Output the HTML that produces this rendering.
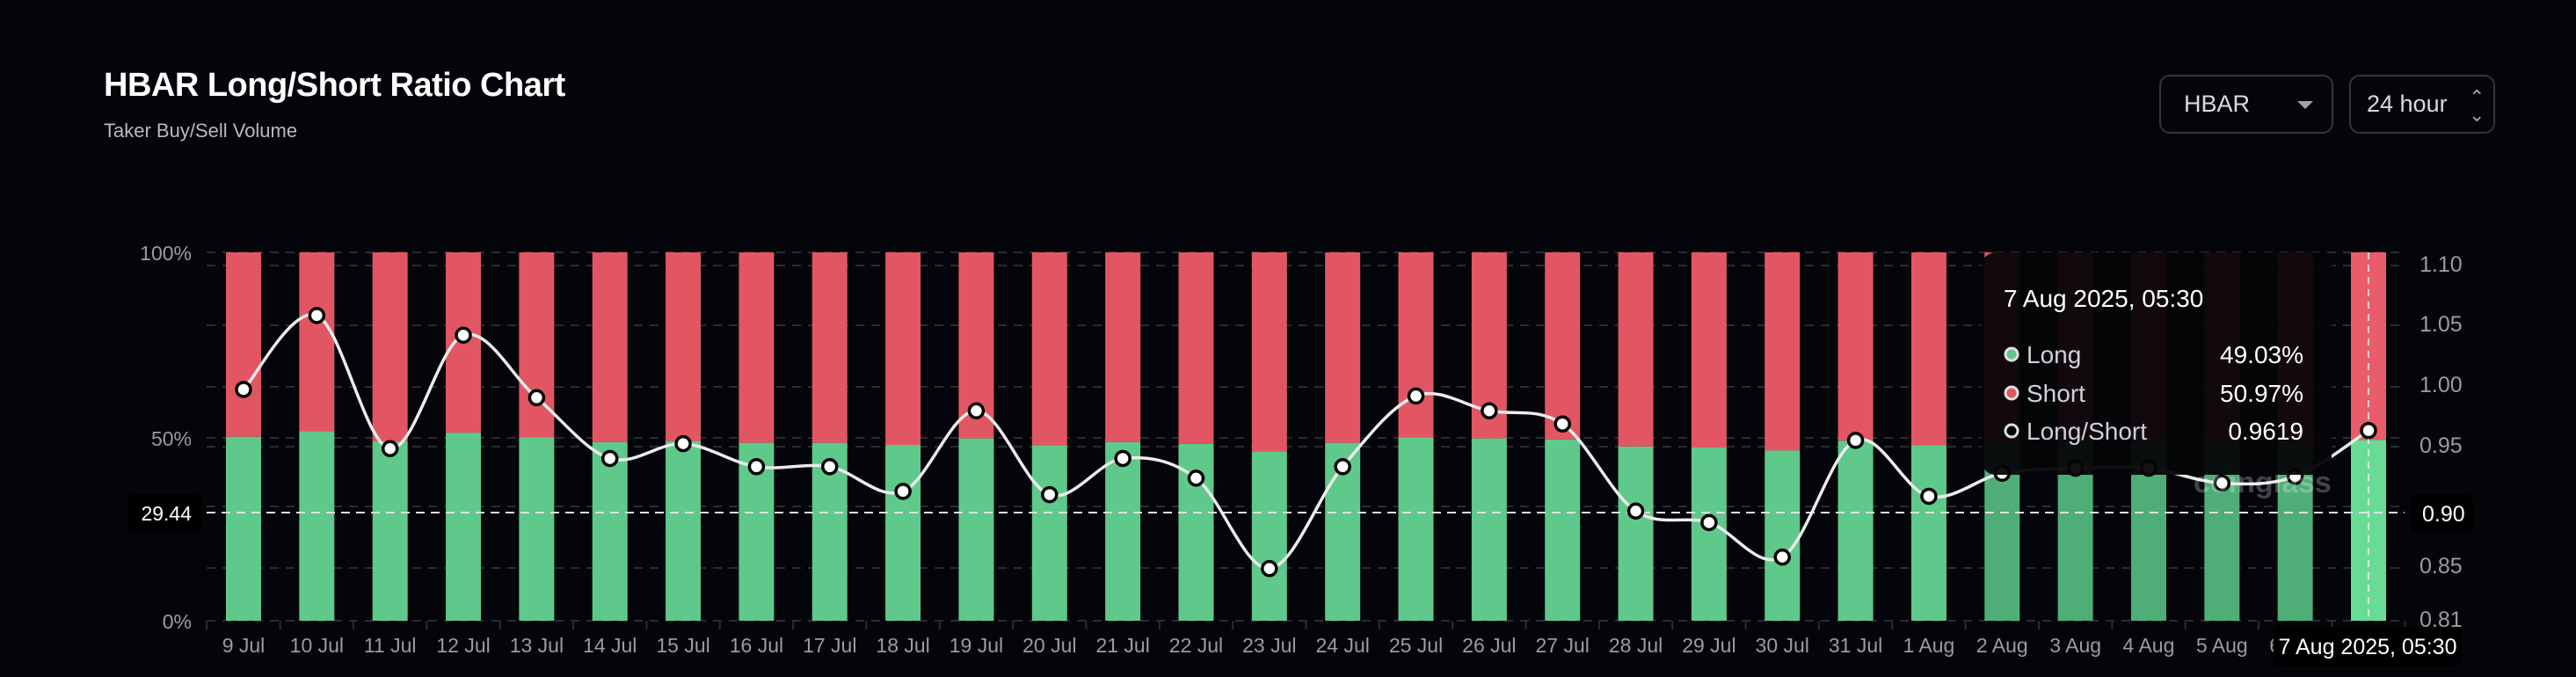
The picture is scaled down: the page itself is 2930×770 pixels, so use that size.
<!DOCTYPE html>
<html><head><meta charset="utf-8"><style>
html,body{margin:0;padding:0;background:#04050a;}
body{width:2930px;height:770px;position:relative;overflow:hidden;font-family:"Liberation Sans",sans-serif;}
.t{position:absolute;left:118px;top:76px;color:#fff;font-size:38px;font-weight:bold;letter-spacing:-0.5px}
.s{position:absolute;left:118px;top:136px;color:#b8bac0;font-size:22px}
.box{position:absolute;top:85px;height:67px;border:2px solid #33353c;border-radius:12px;box-sizing:border-box;color:#d8dae0;font-size:27px;line-height:63px}
</style></head><body>
<div class="t">HBAR Long/Short Ratio Chart</div>
<div class="s">Taker Buy/Sell Volume</div>
<div class="box" style="left:2456px;width:198px;padding-left:26px">HBAR<span style="position:absolute;left:155px;top:28px;width:0;height:0;border-left:9px solid transparent;border-right:9px solid transparent;border-top:9px solid #a0a2a8"></span></div>
<div class="box" style="left:2672px;width:166px;padding-left:18px">24 hour<span style="position:absolute;left:134px;top:14px;font-size:22px;color:#a0a2a8;line-height:20px">⌃<br>⌄</span></div>
<svg id="c" width="2930" height="770" style="position:absolute;left:0;top:0" font-family="Liberation Sans, sans-serif"></svg>
<script>
var svg=document.getElementById('c');var h='';
var grid=[287,302,370,440,498,508,576,646,706];
grid.forEach(function(y){h+='<line x1="235" x2="2735" y1="'+y+'" y2="'+y+'" stroke="#2a2c33" stroke-width="2" stroke-dasharray="10,8"/>';});
var d=[237,192,273,204,242,279,270,284,284,299,250,301,279,291,346,284,241,250,258,311,318,339,268,302,288,285,285,294,290,262];
var labels=['9 Jul','10 Jul','11 Jul','12 Jul','13 Jul','14 Jul','15 Jul','16 Jul','17 Jul','18 Jul','19 Jul','20 Jul','21 Jul','22 Jul','23 Jul','24 Jul','25 Jul','26 Jul','27 Jul','28 Jul','29 Jul','30 Jul','31 Jul','1 Aug','2 Aug','3 Aug','4 Aug','5 Aug','6 Aug',''];
var sp=(2694-277)/29,pts=[];
for(var i=0;i<30;i++){var x=277+i*sp,Y=d[i]*1.869,v=0.9+(577-Y)/1376,L=v/(1+v),gt=706-L*419;
 var last=i==29,dim=(i>=24&&i<=28);
 var g=last?'#68db95':(dim?'#4fae78':'#5ec98a'),r=last?'#e95c69':'#e25663';
 h+='<rect x="'+(x-20)+'" y="287" width="40" height="'+(gt-287)+'" fill="'+r+'"/>';
 h+='<rect x="'+(x-20)+'" y="'+gt+'" width="40" height="'+(706-gt)+'" fill="'+g+'"/>';
 pts.push([x,Y]);
 if(labels[i])h+='<text x="'+x+'" y="742" fill="#9a9ca3" font-size="23" text-anchor="middle">'+labels[i]+'</text>';
 h+='<line x1="'+(x+sp/2)+'" x2="'+(x+sp/2)+'" y1="706" y2="716" stroke="#2a2c33" stroke-width="2"/>';
}
h+='<line x1="235" x2="235" y1="706" y2="716" stroke="#2a2c33" stroke-width="2"/>';
h+='<line x1="2694" x2="2694" y1="287" y2="706" stroke="#ffffff" stroke-opacity="0.7" stroke-width="2" stroke-dasharray="8,6"/>';
h+='<line x1="235" x2="2735" y1="583" y2="583" stroke="#e0e0e0" stroke-width="2" stroke-dasharray="10,7"/>';
var p='M'+pts[0][0]+','+pts[0][1];
for(var i=0;i<29;i++){var p0=pts[Math.max(i-1,0)],p1=pts[i],p2=pts[i+1],p3=pts[Math.min(i+2,29)];
 p+=' C'+(p1[0]+(p2[0]-p0[0])/6)+','+(p1[1]+(p2[1]-p0[1])/6)+' '+(p2[0]-(p3[0]-p1[0])/6)+','+(p2[1]-(p3[1]-p1[1])/6)+' '+p2[0]+','+p2[1];}
h+='<path d="'+p+'" fill="none" stroke="#ececec" stroke-width="3.5"/>';
pts.forEach(function(q){h+='<circle cx="'+q[0]+'" cy="'+q[1]+'" r="8" fill="#fff" stroke="#000" stroke-width="3.5"/>';});
var ll=[['100%',296],['50%',507],['0%',715]];
ll.forEach(function(a){h+='<text x="218" y="'+a[1]+'" fill="#9a9ca3" font-size="23" text-anchor="end">'+a[0]+'</text>';});
var rl=[['1.10',309],['1.05',377],['1.00',446],['0.95',515],['0.85',652],['0.81',713]];
rl.forEach(function(a){h+='<text x="2752" y="'+a[1]+'" fill="#9a9ca3" font-size="25">'+a[0]+'</text>';});
h+='<rect x="145" y="562" width="84" height="43" rx="6" fill="#000"/><text x="218" y="592" fill="#fff" font-size="23" text-anchor="end">29.44</text>';
h+='<rect x="2742" y="562" width="71" height="43" rx="6" fill="#000"/><text x="2755" y="593" fill="#fff" font-size="25">0.90</text>';
h+='<rect x="2586" y="713" width="214" height="45" rx="6" fill="#000"/><text x="2693" y="744" fill="#fff" font-size="25" text-anchor="middle">7 Aug 2025, 05:30</text>';
h+='<text x="2495" y="560" fill="#fff" fill-opacity="0.25" font-size="34" font-weight="bold">coinglass</text>';
h+='<rect x="2254" y="287" width="398" height="253" rx="16" fill="#050508" fill-opacity="0.95"/>';
h+='<text x="2279" y="349" fill="#fff" font-size="28">7 Aug 2025, 05:30</text>';
var rows=[['Long','49.03%','#5ec98a',403],['Short','50.97%','#e25663',447],['Long/Short','0.9619','#04050a',490]];
rows.forEach(function(a){h+='<circle cx="2288" cy="'+a[3]+'" r="7" fill="'+a[2]+'" stroke="#e0e0e0" stroke-width="3"/>';
 h+='<text x="2305" y="'+(a[3]+10)+'" fill="#d0d2d8" font-size="28">'+a[0]+'</text><text x="2620" y="'+(a[3]+10)+'" fill="#fff" font-size="28" text-anchor="end">'+a[1]+'</text>';});
svg.innerHTML=h;
</script>
</body></html>
